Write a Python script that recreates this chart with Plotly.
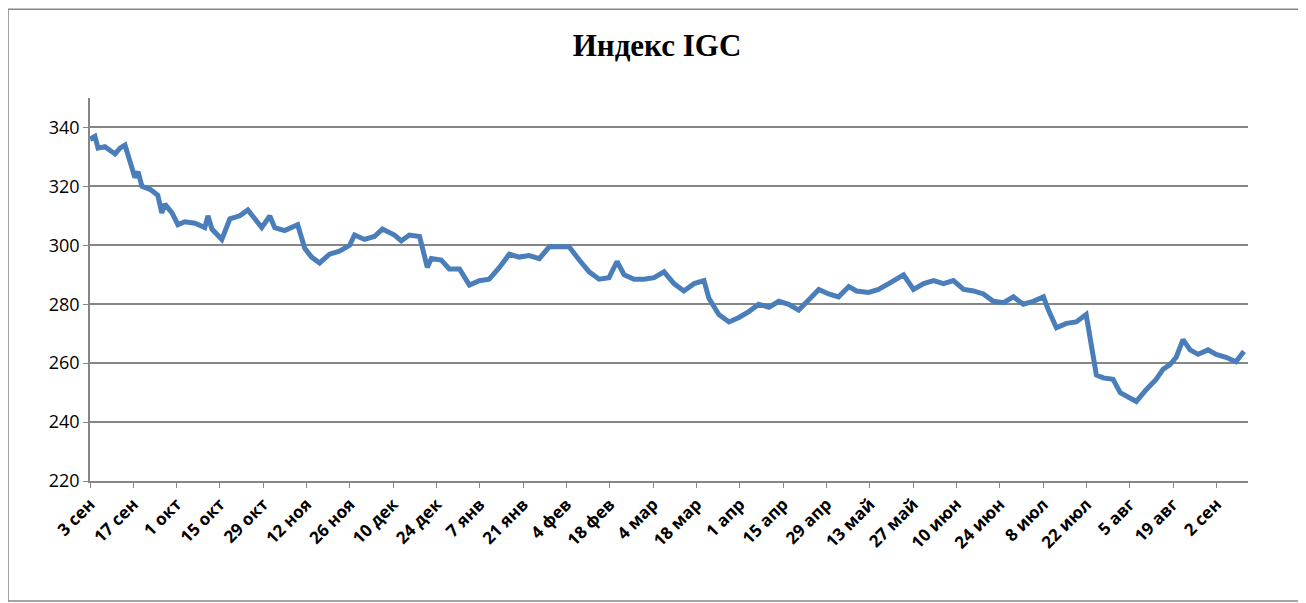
import plotly.graph_objects as go

days = [0,1.6,2.6,4.8,8.1,9.7,11.3,12.9,14.5,15.5,16.8,19.4,21.9,23.2,24.2,26.5,28.4,30.6,33.9,37.1,38.1,39.4,42.6,45.2,48.4,51,53.2,55.5,58.1,59.7,62.9,65.2,67.1,69.4,71.6,74.2,77.4,80.6,83.9,85.5,88.7,91.9,94.5,98.4,100.6,103.2,106.5,109,110.3,113.5,116.1,119.4,122.6,125.8,129,132.3,135.5,138.7,141.9,145.2,148.4,151.6,154.8,158.1,161.3,164.5,167.7,170.3,172.6,175.8,179,182.3,185.5,188.7,191.9,195.2,198.4,200,203.2,206.5,209.7,212.9,216.1,219.4,222.6,225.8,229,232.3,235.5,238.7,241.9,245.2,247.7,251.6,254.8,258.1,262.9,266.1,269.4,272.6,275.8,279,282.3,285.5,288.7,291.9,295.2,298.4,301.6,304.8,308.1,309.7,312.3,315.5,318.7,321.9,323.2,325.2,327.4,330.6,332.9,335.5,338.1,341.3,344.5,346.8,349,351,353.2,355.5,358.1,361.3,363.9,367.1,370.3,372.9]
values = [336,337,333,333.5,331,333,334,328,323,325,320,319,317,311,314,311,307,308,307.5,306,310,305.5,302,309,310,312,309,306,310,306,305,306,307,299,296,294,297,298,300,303.5,302,303,305.5,303.5,301.5,303.5,303,292.5,295.5,295,292,292,286.5,288,288.5,292.5,297,296,296.5,295.5,299.5,299.5,299.5,295,291,288.5,289,294.5,290,288.5,288.5,289,291,287,284.5,287,288,282,276.5,274,275.5,277.5,280,279,281,280,278,281.5,285,283.5,282.5,286,284.5,284,285,287,290,285,287,288,287,288,285,284.5,283.5,281,280.5,282.5,280,281,282.5,278,272,273.5,274,276.5,268,256,255,254.5,250,248.5,247,251,254.5,258,259.5,262,268,264.5,263,264.5,263,262,260.5,264]
tick_days = [14*i for i in range(27)]
tick_labels = ["3 сен","17 сен","1 окт","15 окт","29 окт","12 ноя","26 ноя","10 дек","24 дек","7 янв","21 янв","4 фев","18 фев","4 мар","18 мар","1 апр","15 апр","29 апр","13 май","27 май","10 июн","24 июн","8 июл","22 июл","5 авг","19 авг","2 сен"]

fig = go.Figure(go.Scatter(x=days, y=values, mode="lines",
                           line=dict(color="#4a7ebb", width=5), hoverinfo="skip"))
fig.update_layout(
    width=1298, height=595, paper_bgcolor="white", plot_bgcolor="white",
    margin=dict(l=82, r=58, t=90, b=122, autoexpand=False), showlegend=False,
    title=dict(text="<b>Индекс IGC</b>", x=0.5, xanchor="center", y=0.938, yanchor="middle",
               font=dict(family="Liberation Serif", size=31, color="black")),
    xaxis=dict(range=[0, 374.2], tickvals=tick_days, ticktext=tick_labels, tickangle=-45,
               showgrid=False, zeroline=False, showline=True, linecolor="#868686", linewidth=1.5,
               ticks="outside", ticklen=5, tickcolor="#868686",
               tickfont=dict(family="Open Sans", size=17, color="black", weight="bold")),
    yaxis=dict(range=[220, 350], tickvals=[220,240,260,280,300,320,340],
               showgrid=True, gridcolor="#868686", gridwidth=1.5, zeroline=False,
               showline=True, linecolor="#868686", linewidth=1.5,
               ticks="outside", ticklen=5, tickcolor="#868686",
               tickfont=dict(family="Open Sans", size=18, color="black")),
    shapes=[dict(type="rect", xref="paper", yref="paper", x0=-0.0708, x1=1.0484,
                 y0=-0.313, y1=1.232, line=dict(color="#868686", width=1.5))],
)
fig.write_html("out.html")
